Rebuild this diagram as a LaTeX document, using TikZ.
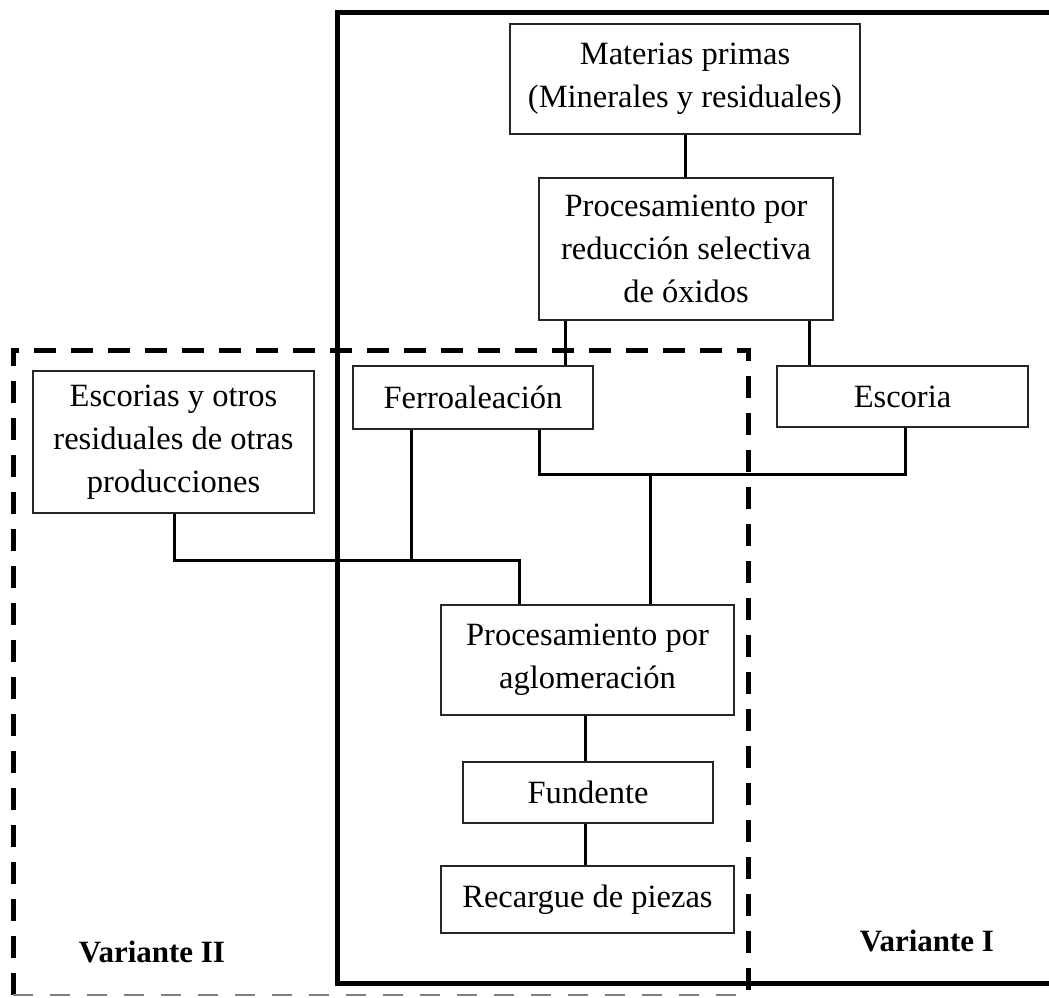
\documentclass[tikz,border=0pt]{standalone}
\usepackage{fontspec}
\setmainfont{Liberation Serif}
\begin{document}
\begin{tikzpicture}[x=1pt,y=-1pt,
  box/.style={draw=black!85, line width=1.1pt, fill=white, align=center, inner sep=0pt,
    font=\fontsize{32.5}{43}\selectfont},
  conn/.style={line width=3pt},
  frameline/.style={line width=5pt},
  dashframe/.style={line width=5pt, dash pattern=on 22pt off 15pt},
  lbl/.style={font=\fontsize{31}{36}\selectfont\bfseries, inner sep=0pt}]
\useasboundingbox (0,0) rectangle (1049,997);
\begin{scope}
\clip (0,0) rectangle (1049,997);
% solid frame (Variante I)
\draw[frameline] (1070,12) -- (337,12) -- (337,983) -- (1070,983);
% dashed frame (Variante II)
\draw[dashframe] (13,995) -- (13,350) -- (748,350) -- (748,995);
\draw[gray, line width=2.5pt, dash pattern=on 20pt off 17pt] (13,995) -- (748,995);
\end{scope}

% boxes
\node[box, minimum width=350pt, minimum height=110pt] (mat) at (685,79) {Materias primas\\(Minerales y residuales)};
\node[box, minimum width=294pt, minimum height=142pt] (red) at (686,249) {Procesamiento por\\reducción selectiva\\de óxidos};
\node[box, minimum width=281pt, minimum height=142pt] (esc2) at (173.5,442) {Escorias y otros\\residuales de otras\\producciones};
\node[box, minimum width=240pt, minimum height=63pt] (fer) at (473,397.5) {Ferroaleación};
\node[box, minimum width=251pt, minimum height=61pt] (esc) at (902.5,396.5) {Escoria};
\node[box, minimum width=293pt, minimum height=110pt] (agl) at (587.5,660) {Procesamiento por\\aglomeración};
\node[box, minimum width=250pt, minimum height=61pt] (fun) at (588,792.5) {Fundente};
\node[box, minimum width=293pt, minimum height=67pt] (rec) at (587.5,899.5) {Recargue de piezas};

% labels
\node[lbl] (v2) at (152,952) {Variante II};
\node[lbl] (v1) at (927,941) {Variante I};

% helper coordinates
\coordinate (xa) at (565,0);
\coordinate (xb) at (809,0);
\coordinate (xc) at (174,0);
\coordinate (xd) at (411,0);
\coordinate (xe) at (519,0);
\coordinate (xf) at (539,0);
\coordinate (xg) at (905,0);
\coordinate (xh) at (650,0);
\coordinate (xi) at (585,0);
\coordinate (ya) at (0,560);
\coordinate (yb) at (0,474);

% connectors
\draw[conn] (mat.south) -- (red.north -| mat.south);
\draw[conn] (red.south -| xa) -- (fer.north -| xa);
\draw[conn] (red.south -| xb) -- (esc.north -| xb);
\draw[conn] (esc2.south -| xc) -- (ya -| xc) -- (ya -| xe) -- (agl.north -| xe);
\draw[conn] (fer.south -| xd) -- (ya -| xd);
\draw[conn] (fer.south -| xf) -- (yb -| xf) -- (yb -| xg) -- (esc.south -| xg);
\draw[conn] (yb -| xh) -- (agl.north -| xh);
\draw[conn] (agl.south -| xi) -- (fun.north -| xi);
\draw[conn] (fun.south -| xi) -- (rec.north -| xi);
\end{tikzpicture}
\end{document}
